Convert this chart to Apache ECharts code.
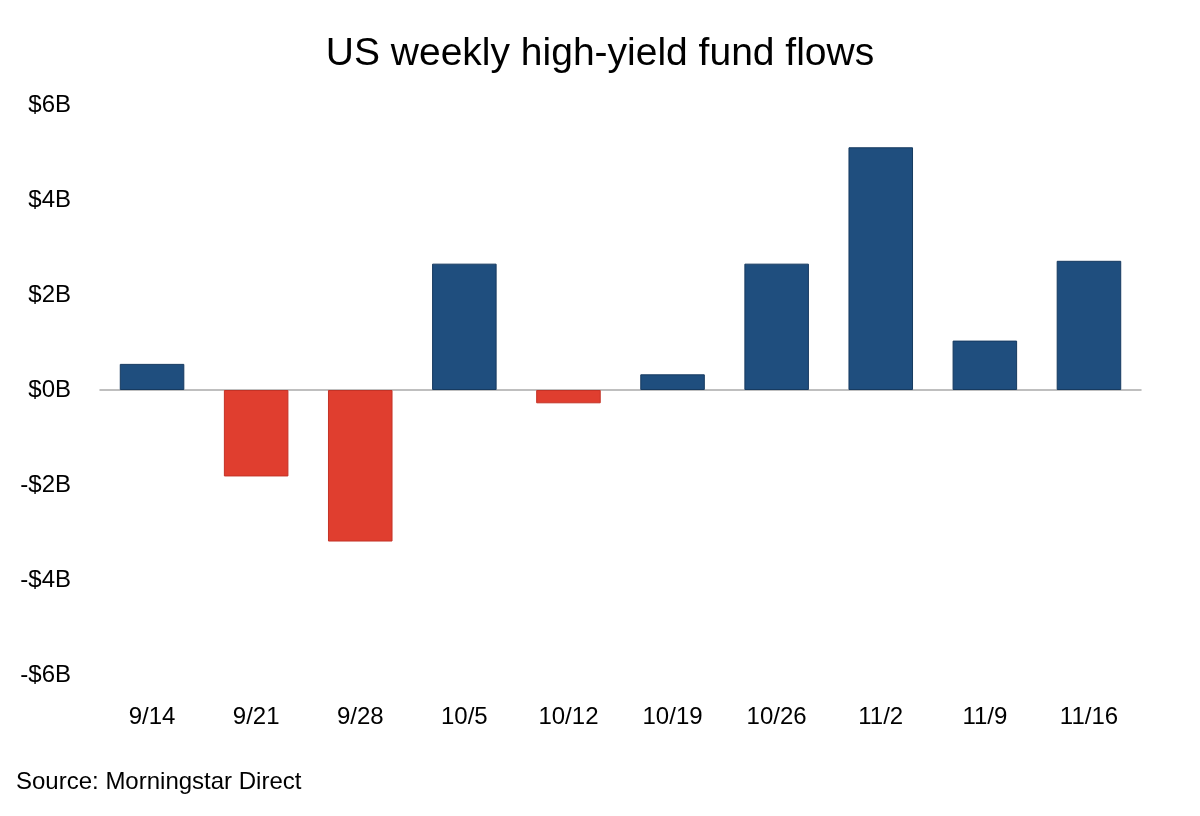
<!DOCTYPE html>
<html>
<head>
<meta charset="utf-8">
<script src="https://cdn.jsdelivr.net/npm/echarts@6/dist/echarts.min.js"></script>
<style>
html,body{margin:0;padding:0;background:#fff;}
#chart{width:1200px;height:816px;}
</style>
</head>
<body>
<div id="chart"></div>
<script>
const categories = ['9/14','9/21','9/28','10/5','10/12','10/19','10/26','11/2','11/9','11/16'];
const flows = [0.55, -1.82, -3.19, 2.66, -0.28, 0.33, 2.66, 5.11, 1.04, 2.72];
const yTicks = [-6, -4, -2, 0, 2, 4, 6];

const FONT = '"Liberation Sans Narrow", "Arial Narrow", "Liberation Sans", Arial, sans-serif';
const chart = echarts.init(document.getElementById('chart'));
chart.setOption({
  backgroundColor: '#fff',
  animation: false,
  title: {
    text: 'US weekly high-yield fund flows',
    left: 'center',
    top: 30,
    textStyle: {fontFamily: FONT, fontSize: 39, fontWeight: 'normal', color: '#000'}
  },
  graphic: [{
    type: 'text', left: 16, top: 770,
    style: {text: 'Source: Morningstar Direct', font: '24px ' + FONT, fill: '#000'}
  }],
  grid: {left: 100, right: 59, top: 105, bottom: 141, containLabel: false},
  xAxis: [{
    type: 'category', data: categories,
    axisLine: {onZero: true, lineStyle: {color: '#aaaaaa', width: 1.5}},
    axisTick: {show: false}, axisLabel: {show: false}
  }, {
    type: 'category', data: categories, position: 'bottom',
    axisLine: {show: false, onZero: false}, axisTick: {show: false},
    axisLabel: {margin: 30, fontFamily: FONT, fontSize: 24, color: '#000'}
  }],
  yAxis: {
    type: 'value', min: -6, max: 6, interval: 2,
    axisLine: {show: false}, axisTick: {show: false}, splitLine: {show: false},
    axisLabel: {
      margin: 29, fontFamily: FONT, fontSize: 24, color: '#000',
      formatter: v => yTicks.includes(v) ? (v < 0 ? '-$' + (-v) + 'B' : '$' + v + 'B') : ''
    }
  },
  series: [{
    type: 'bar', xAxisIndex: 0,
    barWidth: '62%',
    data: flows.map(v => ({
      value: v,
      itemStyle: v >= 0
        ? {color: '#1f4e7e', borderColor: '#163a60', borderWidth: 1}
        : {color: '#e03e2f', borderColor: '#c43226', borderWidth: 1}
    }))
  }]
});
</script>
</body>
</html>
